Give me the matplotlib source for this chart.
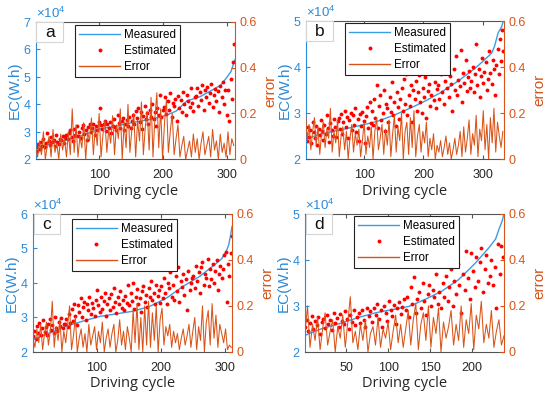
import numpy as np
import matplotlib
matplotlib.use('Agg')
import matplotlib.pyplot as plt
from matplotlib.patches import Rectangle
from matplotlib.lines import Line2D
from matplotlib.ticker import ScalarFormatter

plt.rcParams['font.family'] = ['Liberation Sans', 'DejaVu Sans']
plt.rcParams['mathtext.fontset'] = 'custom'
plt.rcParams['mathtext.rm'] = 'Liberation Sans'
plt.rcParams['mathtext.it'] = 'Liberation Sans'
plt.rcParams['mathtext.default'] = 'regular'

SCALE = 1e4  # EC values below are in units of 10^4 W.h

# ---- panel a ----
a_n = 312
a_meas_x = [1, 10, 30, 50, 75, 100, 130, 155, 180, 205, 220, 237, 258, 279, 290, 300, 306, 310, 312]
a_meas = [2.40, 2.48, 2.60, 2.70, 2.88, 3.10, 3.22, 3.35, 3.45, 3.60, 3.75, 4.12, 4.28, 4.55, 4.70, 5.00, 5.20, 5.50, 5.62]
a_est = [2.45, 2.30, 2.55, 2.38, 2.62, 2.50, 2.72, 2.44, 2.58, 2.95, 2.66, 2.52, 2.80, 2.61, 2.70, 2.48, 2.88, 2.64, 2.57, 2.75, 2.69, 2.83, 2.60, 2.78, 2.90,
         2.72, 2.95, 3.05, 2.80, 2.68, 3.10, 2.90, 3.22, 2.85, 3.00, 2.78, 3.15, 3.25, 2.92, 3.05, 2.70, 3.18, 3.28, 2.98, 3.12, 3.30, 2.88, 3.20, 3.08, 3.35,
         3.85, 3.25, 3.10, 3.30, 3.40, 3.02, 3.28, 3.15, 3.35, 2.95, 3.22, 3.45, 3.18, 3.05, 3.60, 3.32, 3.12, 3.38, 3.50, 3.08, 3.27, 3.42, 3.20, 3.55, 3.15,
         3.40, 3.62, 3.28, 3.75, 3.50, 3.85, 3.35, 3.70, 3.10, 3.58, 3.92, 3.45, 3.68, 3.30, 3.80, 3.55, 4.00, 3.48, 3.72, 3.20, 3.88, 3.62, 4.35, 3.52, 3.78,
         3.90, 4.25, 3.65, 4.10, 3.80, 4.40, 3.55, 4.05, 3.95, 4.20, 3.40, 4.30, 3.85, 4.15, 3.70, 4.45, 4.00, 3.60, 4.35, 4.10, 3.90, 4.60, 4.05, 3.75, 4.25,
         4.30, 4.60, 3.95, 4.45, 4.15, 4.70, 3.80, 4.50, 4.25, 4.62, 4.05, 4.40, 4.75, 3.90, 4.35, 4.55, 4.10, 4.48, 3.70, 4.65, 4.28, 4.80, 4.00, 4.52, 3.60,
         4.50, 3.40, 4.90, 4.20, 5.55, 6.20]
a_err = [0.05, 0.01, 0.08, 0.02, 0.12, 0.00, 0.06, 0.10, 0.01, 0.13, 0.03, 0.07, 0.00, 0.11, 0.04, 0.09, 0.01, 0.12, 0.02, 0.22,
         0.03, 0.15, 0.01, 0.10, 0.05, 0.16, 0.00, 0.12, 0.08, 0.18, 0.02, 0.14, 0.06, 0.20, 0.01, 0.11, 0.17, 0.03, 0.13, 0.07,
         0.19, 0.02, 0.15, 0.09, 0.22, 0.00, 0.16, 0.05, 0.24, 0.03, 0.13, 0.20, 0.01, 0.17, 0.08, 0.25, 0.02, 0.14, 0.21, 0.04,
         0.27, 0.01, 0.18, 0.29, 0.05, 0.22, 0.00, 0.16, 0.26, 0.03, 0.12, 0.20, 0.02, 0.09, 0.15, 0.01, 0.06, 0.10, 0.00, 0.04,
         0.08, 0.01, 0.11, 0.03, 0.09, 0.00, 0.07, 0.12, 0.02, 0.06, 0.10, 0.01, 0.13, 0.04, 0.08, 0.00, 0.11, 0.03, 0.07, 0.01,
         0.12, 0.02, 0.09, 0.06]

# ---- panel b ----
b_n = 336
b_meas_x = [1, 20, 40, 70, 100, 120, 150, 180, 203, 230, 259, 287, 300, 315, 320, 326, 332, 336]
b_meas = [2.42, 2.52, 2.58, 2.66, 2.75, 2.81, 2.95, 3.12, 3.26, 3.45, 3.70, 3.97, 4.12, 4.30, 4.45, 4.74, 4.88, 5.05]
b_est = [2.55, 2.40, 2.70, 2.48, 2.62, 2.35, 2.80, 2.58, 2.45, 2.72, 2.30, 2.65, 2.52, 2.85, 2.60, 2.42, 2.75, 2.55, 2.95, 2.68, 2.38, 2.78, 2.62, 2.50, 2.88, 2.70, 2.47, 2.82,
         2.90, 2.65, 2.98, 2.55, 2.80, 3.05, 2.70, 2.92, 2.45, 2.85, 3.00, 2.62, 2.95, 2.75, 3.10, 2.58, 2.88, 2.40, 2.98, 2.72, 3.02, 2.82, 2.35, 2.93, 3.12, 2.68, 3.25, 2.78,
         3.05, 2.75, 3.30, 2.90, 3.60, 2.68, 3.15, 3.40, 2.85, 3.00, 3.50, 2.60, 3.20, 3.10, 2.80, 3.35, 3.02, 3.68, 2.95, 3.25, 2.72, 3.45, 3.12, 2.88, 3.30, 3.55, 3.05, 3.75,
         3.20, 3.85, 2.95, 3.40, 3.15, 3.60, 2.80, 3.50, 3.30, 3.70, 3.05, 3.45, 3.82, 3.25, 3.00, 3.55, 3.35, 3.78, 2.90, 3.48, 3.62, 3.15, 3.40, 3.90, 3.28, 3.68, 3.10, 3.52,
         3.60, 3.30, 3.85, 3.45, 4.05, 3.20, 3.70, 3.55, 4.10, 3.35, 3.80, 3.62, 3.05, 3.95, 3.50, 4.25, 3.40, 3.72, 3.58, 4.38, 3.25, 3.88, 3.65, 4.15, 3.48, 3.78, 3.92, 3.55,
         3.70, 4.00, 3.45, 3.85, 4.50, 3.60, 3.95, 3.35, 3.80, 4.20, 3.65, 3.90, 4.10, 3.50, 3.75, 4.35, 3.88, 3.62, 4.15, 3.95, 3.40, 4.05, 4.40, 3.85, 4.60, 4.12, 4.80, 4.35]
b_err = [0.20, 0.08, 0.15, 0.04, 0.12, 0.18, 0.06, 0.14, 0.02, 0.11, 0.16, 0.05, 0.13, 0.09, 0.22, 0.03, 0.12, 0.07, 0.17, 0.01, 0.10, 0.14, 0.04,
         0.12, 0.00, 0.09, 0.15, 0.03, 0.11, 0.06, 0.13, 0.01, 0.08, 0.16, 0.02, 0.10, 0.05, 0.14, 0.00, 0.12, 0.18, 0.04, 0.09, 0.15, 0.02,
         0.13, 0.06, 0.17, 0.01, 0.11, 0.19, 0.03, 0.14, 0.08, 0.20, 0.00, 0.12, 0.16, 0.02, 0.18, 0.05, 0.21, 0.01, 0.10, 0.15, 0.03, 0.12,
         0.07, 0.16, 0.01, 0.09, 0.04, 0.11, 0.00, 0.06, 0.03, 0.08, 0.01, 0.05, 0.10, 0.02, 0.07, 0.00, 0.04, 0.09, 0.02, 0.06, 0.12, 0.01,
         0.14, 0.03, 0.09, 0.17, 0.02, 0.11, 0.06, 0.19, 0.01, 0.13, 0.08, 0.21, 0.04, 0.15, 0.00, 0.18, 0.07, 0.22, 0.03, 0.16, 0.10, 0.05, 0.12]

# ---- panel c ----
c_n = 311
c_meas_x = [1, 20, 52, 80, 105, 130, 157, 183, 209, 235, 261, 287, 295, 302, 306, 309, 311]
c_meas = [2.36, 2.50, 2.74, 2.90, 3.03, 3.10, 3.18, 3.32, 3.56, 3.90, 4.19, 4.57, 4.70, 4.91, 5.10, 5.40, 5.63]
c_est = [2.45, 2.60, 2.38, 2.75, 2.55, 2.85, 2.50, 2.68, 2.92, 2.58, 2.72, 2.48, 2.80, 2.95, 2.65, 2.78, 2.55, 3.00, 2.70, 2.62, 2.88, 2.75, 2.98, 2.68, 2.82,
         2.80, 2.95, 2.72, 3.10, 2.85, 3.25, 2.90, 3.40, 3.05, 2.78, 3.35, 3.15, 3.55, 3.00, 3.30, 3.45, 2.92, 3.38, 3.20, 3.60, 3.10, 3.42, 3.28, 3.05, 3.50,
         3.80, 3.35, 3.15, 3.60, 3.25, 3.48, 3.70, 3.05, 3.40, 3.55, 3.22, 3.68, 3.30, 3.85, 3.45, 3.12, 3.58, 3.38, 3.75, 3.28, 3.50, 3.20, 3.62, 3.42, 3.95,
         3.35, 3.70, 3.48, 4.00, 3.25, 3.60, 3.82, 3.40, 3.55, 3.15, 3.75, 3.90, 3.45, 3.65, 3.30, 3.85, 3.58, 4.05, 3.50, 3.72, 3.38, 3.95, 3.62, 3.80, 3.42,
         3.90, 3.55, 4.15, 3.70, 3.40, 4.00, 3.85, 4.30, 3.60, 3.95, 3.50, 4.20, 3.75, 4.45, 3.45, 4.05, 3.88, 4.25, 3.65, 4.10, 3.20, 4.35, 3.80, 4.00, 4.15,
         4.20, 3.85, 4.50, 4.05, 4.30, 3.70, 4.45, 4.60, 3.95, 4.25, 4.15, 4.70, 3.90, 4.40, 4.10, 4.55, 4.00, 4.35, 4.65, 3.80, 4.25, 4.50, 4.15, 4.40, 4.80,
         4.90, 3.45, 4.55, 4.20, 4.85, 5.35]
c_err = [0.06, 0.02, 0.10, 0.04, 0.12, 0.01, 0.08, 0.13, 0.03, 0.09, 0.22, 0.02, 0.11, 0.05, 0.14, 0.00, 0.09, 0.04, 0.12, 0.20,
         0.01, 0.07, 0.15, 0.00, 0.06, 0.10, 0.02, 0.08, 0.00, 0.12, 0.03, 0.07, 0.11, 0.01, 0.09, 0.04, 0.13, 0.00, 0.06, 0.10,
         0.02, 0.08, 0.12, 0.00, 0.05, 0.14, 0.03, 0.09, 0.01, 0.11, 0.06, 0.00, 0.18, 0.04, 0.21, 0.01, 0.15, 0.00, 0.20, 0.03,
         0.22, 0.02, 0.17, 0.05, 0.20, 0.00, 0.14, 0.19, 0.03, 0.11, 0.07, 0.12, 0.02, 0.09, 0.04, 0.08, 0.01, 0.06, 0.10, 0.03,
         0.07, 0.12, 0.02, 0.09, 0.15, 0.01, 0.11, 0.05, 0.20, 0.00, 0.13, 0.18, 0.03, 0.21, 0.06, 0.16, 0.02, 0.12, 0.08, 0.04,
         0.10, 0.01, 0.03, 0.02]

# ---- panel d ----
d_n = 238
d_meas_x = [1, 20, 45, 65, 85, 105, 125, 144, 164, 184, 204, 220, 228, 232, 236, 238]
d_meas = [2.36, 2.50, 2.63, 2.75, 2.85, 2.92, 2.99, 3.14, 3.32, 3.57, 3.93, 4.26, 4.45, 4.66, 4.85, 5.00]
d_est = [2.55, 2.70, 2.45, 2.62, 2.78, 2.50, 2.68, 2.58, 2.75, 2.40, 2.65, 2.72, 2.52, 2.80, 2.60, 2.70, 2.48, 2.85, 2.63, 2.74,
         2.55, 2.82, 2.68, 2.60, 2.88, 2.72, 2.50, 2.80, 2.65, 2.90, 2.58, 2.75, 2.85, 2.62, 2.92, 2.70, 2.55, 2.95, 2.78, 2.88,
         2.65, 2.95, 2.80, 3.05, 2.72, 2.90, 2.55, 3.00, 2.85, 2.68, 3.10, 2.92, 2.78, 3.02, 2.60, 2.95, 3.08, 2.82, 2.98, 3.15,
         2.90, 3.20, 2.75, 3.40, 3.05, 3.62, 2.85, 3.15, 3.30, 2.95, 3.50, 3.10, 2.80, 3.25, 3.45, 3.00, 3.35, 3.20, 3.70, 3.05,
         3.30, 2.95, 3.50, 3.20, 3.65, 3.10, 3.40, 3.80, 3.00, 3.55, 3.25, 3.90, 3.45, 2.85, 3.70, 3.35, 4.20, 3.60, 3.15, 4.15,
         3.75, 3.40, 4.05, 3.55, 3.95, 4.25, 3.30, 3.80, 4.10, 3.50, 3.65, 4.00, 3.45, 3.85, 2.95, 4.35, 3.70, 4.30, 4.05]
d_err = [0.08, 0.20, 0.02, 0.12, 0.05, 0.15, 0.01, 0.10, 0.17, 0.03, 0.09, 0.14, 0.00, 0.11, 0.06, 0.16, 0.02, 0.13, 0.24, 0.04,
         0.09, 0.01, 0.12, 0.05, 0.14, 0.00, 0.08, 0.11, 0.03, 0.15, 0.02, 0.10, 0.06, 0.13, 0.01, 0.09, 0.16, 0.04, 0.12, 0.02,
         0.10, 0.18, 0.03, 0.14, 0.21, 0.01, 0.12, 0.17, 0.05, 0.20, 0.02, 0.15, 0.08, 0.19, 0.00, 0.13, 0.06, 0.11, 0.18, 0.03,
         0.12, 0.05, 0.20, 0.02, 0.14, 0.08, 0.21, 0.01, 0.16, 0.10, 0.22, 0.04, 0.12, 0.06, 0.18, 0.02, 0.09, 0.14, 0.03, 0.07]

BLUE_AX = '#2a8ad8'
BLUE_LINE = '#3a9ee4'
ORANGE = '#d95319'
BOX = '#555555'


def draw_panel(fig, rect, label, n, meas_x, meas, est, err, ytop, xticks, leg_xy):
    ax = fig.add_axes(rect)
    est_x = 1 + 2 * np.arange(len(est))
    err_x = 1 + 3 * np.arange(len(err))

    ax.plot(meas_x, np.array(meas) * SCALE, color=BLUE_LINE, lw=1.0)
    ax.plot(est_x, np.array(est) * SCALE, 'o', color='red', ms=2.8, mew=0)
    ax.set_xlim(1, n)
    ax.set_ylim(2 * SCALE, ytop * SCALE)
    ax.set_yticks(np.arange(2, ytop + 1) * SCALE)
    ax.set_xticks(xticks)

    fmt = ScalarFormatter(useMathText=True)
    fmt.set_powerlimits((4, 4))
    ax.yaxis.set_major_formatter(fmt)
    ax.yaxis.get_offset_text().set_fontsize(9.5)
    ax.yaxis.get_offset_text().set_color(BLUE_AX)

    ax.tick_params(axis='y', direction='in', colors=BLUE_AX, labelsize=9, length=3, pad=3)
    ax.tick_params(axis='x', direction='in', colors=BOX, labelcolor='#262626', labelsize=9,
                   length=3, pad=7, top=True)
    ax.spines['left'].set_color(BLUE_AX)
    ax.spines['right'].set_visible(False)
    for s in ('top', 'bottom'):
        ax.spines[s].set_color(BOX)
        ax.spines[s].set_linewidth(0.8)
    ax.set_ylabel('EC(W.h)', color=BLUE_AX, fontsize=11, labelpad=1)
    ax.set_xlabel('Driving cycle', fontsize=10.5, family=['Open Sans', 'DejaVu Sans'],
                  color='#262626', labelpad=2)

    ax2 = ax.twinx()
    ax2.plot(err_x, err, color=ORANGE, lw=0.75)
    ax2.set_ylim(0, 0.6)
    ax2.set_yticks([0, 0.2, 0.4, 0.6], labels=['0', '0.2', '0.4', '0.6'])
    ax2.tick_params(axis='y', direction='in', colors=ORANGE, labelsize=9, length=3, pad=3)
    for s in ('left', 'top', 'bottom'):
        ax2.spines[s].set_visible(False)
    ax2.spines['right'].set_color(ORANGE)
    ax2.set_ylabel('error', color=ORANGE, fontsize=11, labelpad=5)

    # panel letter box
    ax2.add_patch(Rectangle((0.003, 0.855), 0.133, 0.143, transform=ax2.transAxes,
                            facecolor='white', edgecolor='#d4d4d4', lw=0.8, zorder=5))
    ax2.text(0.07, 0.925, label, transform=ax2.transAxes, ha='center', va='center',
             fontsize=12.5, color='#111111', zorder=6)

    handles = [Line2D([], [], color=BLUE_LINE, lw=1.0),
               Line2D([], [], ls='none', marker='o', color='red', ms=2.8, mew=0),
               Line2D([], [], color=ORANGE, lw=1.0)]
    leg = ax2.legend(handles, ['Measured', 'Estimated', 'Error'], loc='upper left',
                     bbox_to_anchor=(leg_xy[0] / 550, 1 - leg_xy[1] / 398),
                     bbox_transform=fig.transFigure, fontsize=8.4, handlelength=3.5,
                     handletextpad=0.35, labelspacing=0.33, borderpad=0.36,
                     borderaxespad=0, fancybox=False, framealpha=1, numpoints=1)
    leg.get_frame().set_edgecolor('#222222')
    leg.get_frame().set_linewidth(0.8)
    leg.set_zorder(7)
    return ax


fig = plt.figure(figsize=(5.5, 3.98), dpi=100)

draw_panel(fig, [0.0649, 0.5998, 0.3624, 0.3457], 'a', a_n, a_meas_x, a_meas, a_est, a_err,
           7, [100, 200, 300], (75, 25))
draw_panel(fig, [0.5555, 0.6005, 0.3609, 0.3467], 'b', b_n, b_meas_x, b_meas, b_est, b_err,
           5, [100, 200, 300], (345, 22.7))
draw_panel(fig, [0.0600, 0.1156, 0.3618, 0.3475], 'c', c_n, c_meas_x, c_meas, c_est, c_err,
           6, [100, 200, 300], (71.7, 218.7))
draw_panel(fig, [0.5545, 0.1156, 0.3618, 0.3475], 'd', d_n, d_meas_x, d_meas, d_est, d_err,
           5, [50, 100, 150, 200], (354, 216))

fig.savefig('out.png', dpi=100)
